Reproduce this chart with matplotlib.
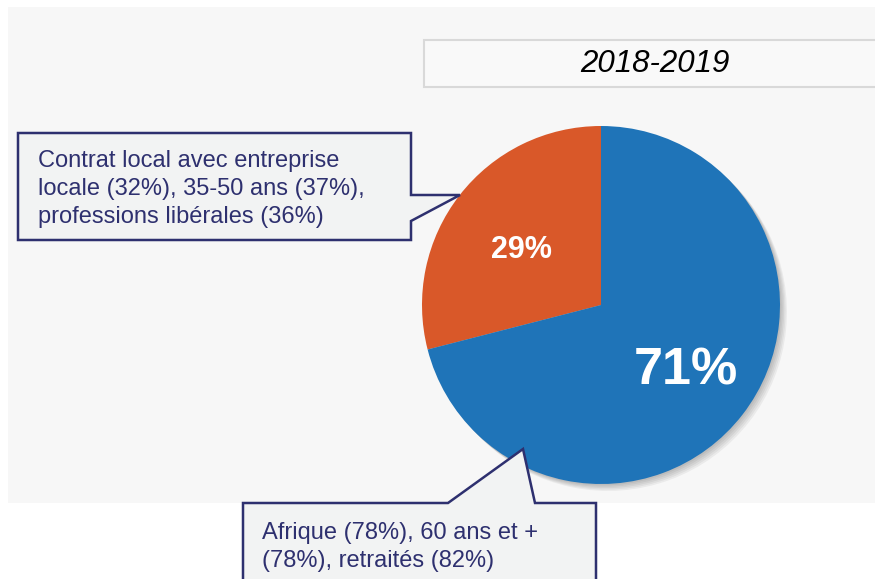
import numpy as np
import matplotlib.pyplot as plt
from matplotlib.patches import Rectangle, Polygon
import matplotlib.patheffects as pe

plt.rcParams['font.family'] = ['Liberation Sans', 'DejaVu Sans']

# donnees
periode = '2018-2019'
valeurs = [29, 71]
couleurs = ['#d95829', '#1f74b8']
note_orange = 'Contrat local avec entreprise\nlocale (32%), 35-50 ans (37%),\nprofessions libérales (36%)'
note_bleu = 'Afrique (78%), 60 ans et +\n(78%), retraités (82%)'

# figure en pixels (y vers le bas)
fig = plt.figure(figsize=(8.75, 5.79), dpi=100)
ax = fig.add_axes([0, 0, 1, 1])

# fond gris
ax.add_patch(Rectangle((8, 7), 867, 496, facecolor='#f7f7f7', edgecolor='none', zorder=0))

# boite du titre
ax.add_patch(Rectangle((424, 40), 460, 47, facecolor='#f9f9f9', edgecolor='#d9d9d9', lw=1.5, zorder=1))
ax.text(655, 64, periode, fontsize=22.5, style='italic', color='black', ha='center', va='center', zorder=2)

# ombre douce
ombre = [pe.SimplePatchShadow(offset=(d, -d), shadow_rgbFace='black', alpha=0.05) for d in (1, 2, 3, 4, 5)]

centre = (601, 305)
rayon = 179
wedges, txts, pcts = ax.pie(valeurs, colors=couleurs, startangle=-90, counterclock=False,
                            center=centre, radius=rayon, frame=True,
                            autopct=lambda p: f'{round(p)}%', pctdistance=0.6,
                            wedgeprops=dict(linewidth=0, path_effects=ombre + [pe.Normal()]))
ax.set_xlim(0, 875)
ax.set_ylim(579, 0)
ax.set_aspect('equal')
ax.axis('off')
for w in wedges:
    w.set_zorder(3)
for w, t, fs, dist, dy in zip(wedges, pcts, [22, 37.5], [0.56, 0.6], [6, 0]):
    ang = np.deg2rad((w.theta1 + w.theta2) / 2)
    t.set_position((centre[0] + dist * rayon * np.cos(ang), centre[1] + dist * rayon * np.sin(ang) + dy))
    t.set_color('white')
    t.set_fontweight('bold')
    t.set_fontsize(fs)
    t.set_zorder(4)

# bulles
bord = '#2e306f'
fond = '#f2f3f3'
bulle1 = Polygon([(18, 133), (411, 133), (411, 195), (460, 195), (411, 221), (411, 240), (18, 240)],
                 closed=True, facecolor=fond, edgecolor=bord, lw=1.8, zorder=5)
ax.add_patch(bulle1)
ax.text(38, 189, note_orange, fontsize=17, color=bord, ha='left', va='center', linespacing=1.38, zorder=6)

bulle2 = Polygon([(243, 503), (448, 503), (523, 449), (535, 503), (596, 503), (596, 590), (243, 590)],
                 closed=True, facecolor=fond, edgecolor=bord, lw=1.8, zorder=5)
ax.add_patch(bulle2)
ax.text(262, 547, note_bleu, fontsize=17, color=bord, ha='left', va='center', linespacing=1.38, zorder=6)

plt.savefig('out.png', dpi=100, facecolor='white')
